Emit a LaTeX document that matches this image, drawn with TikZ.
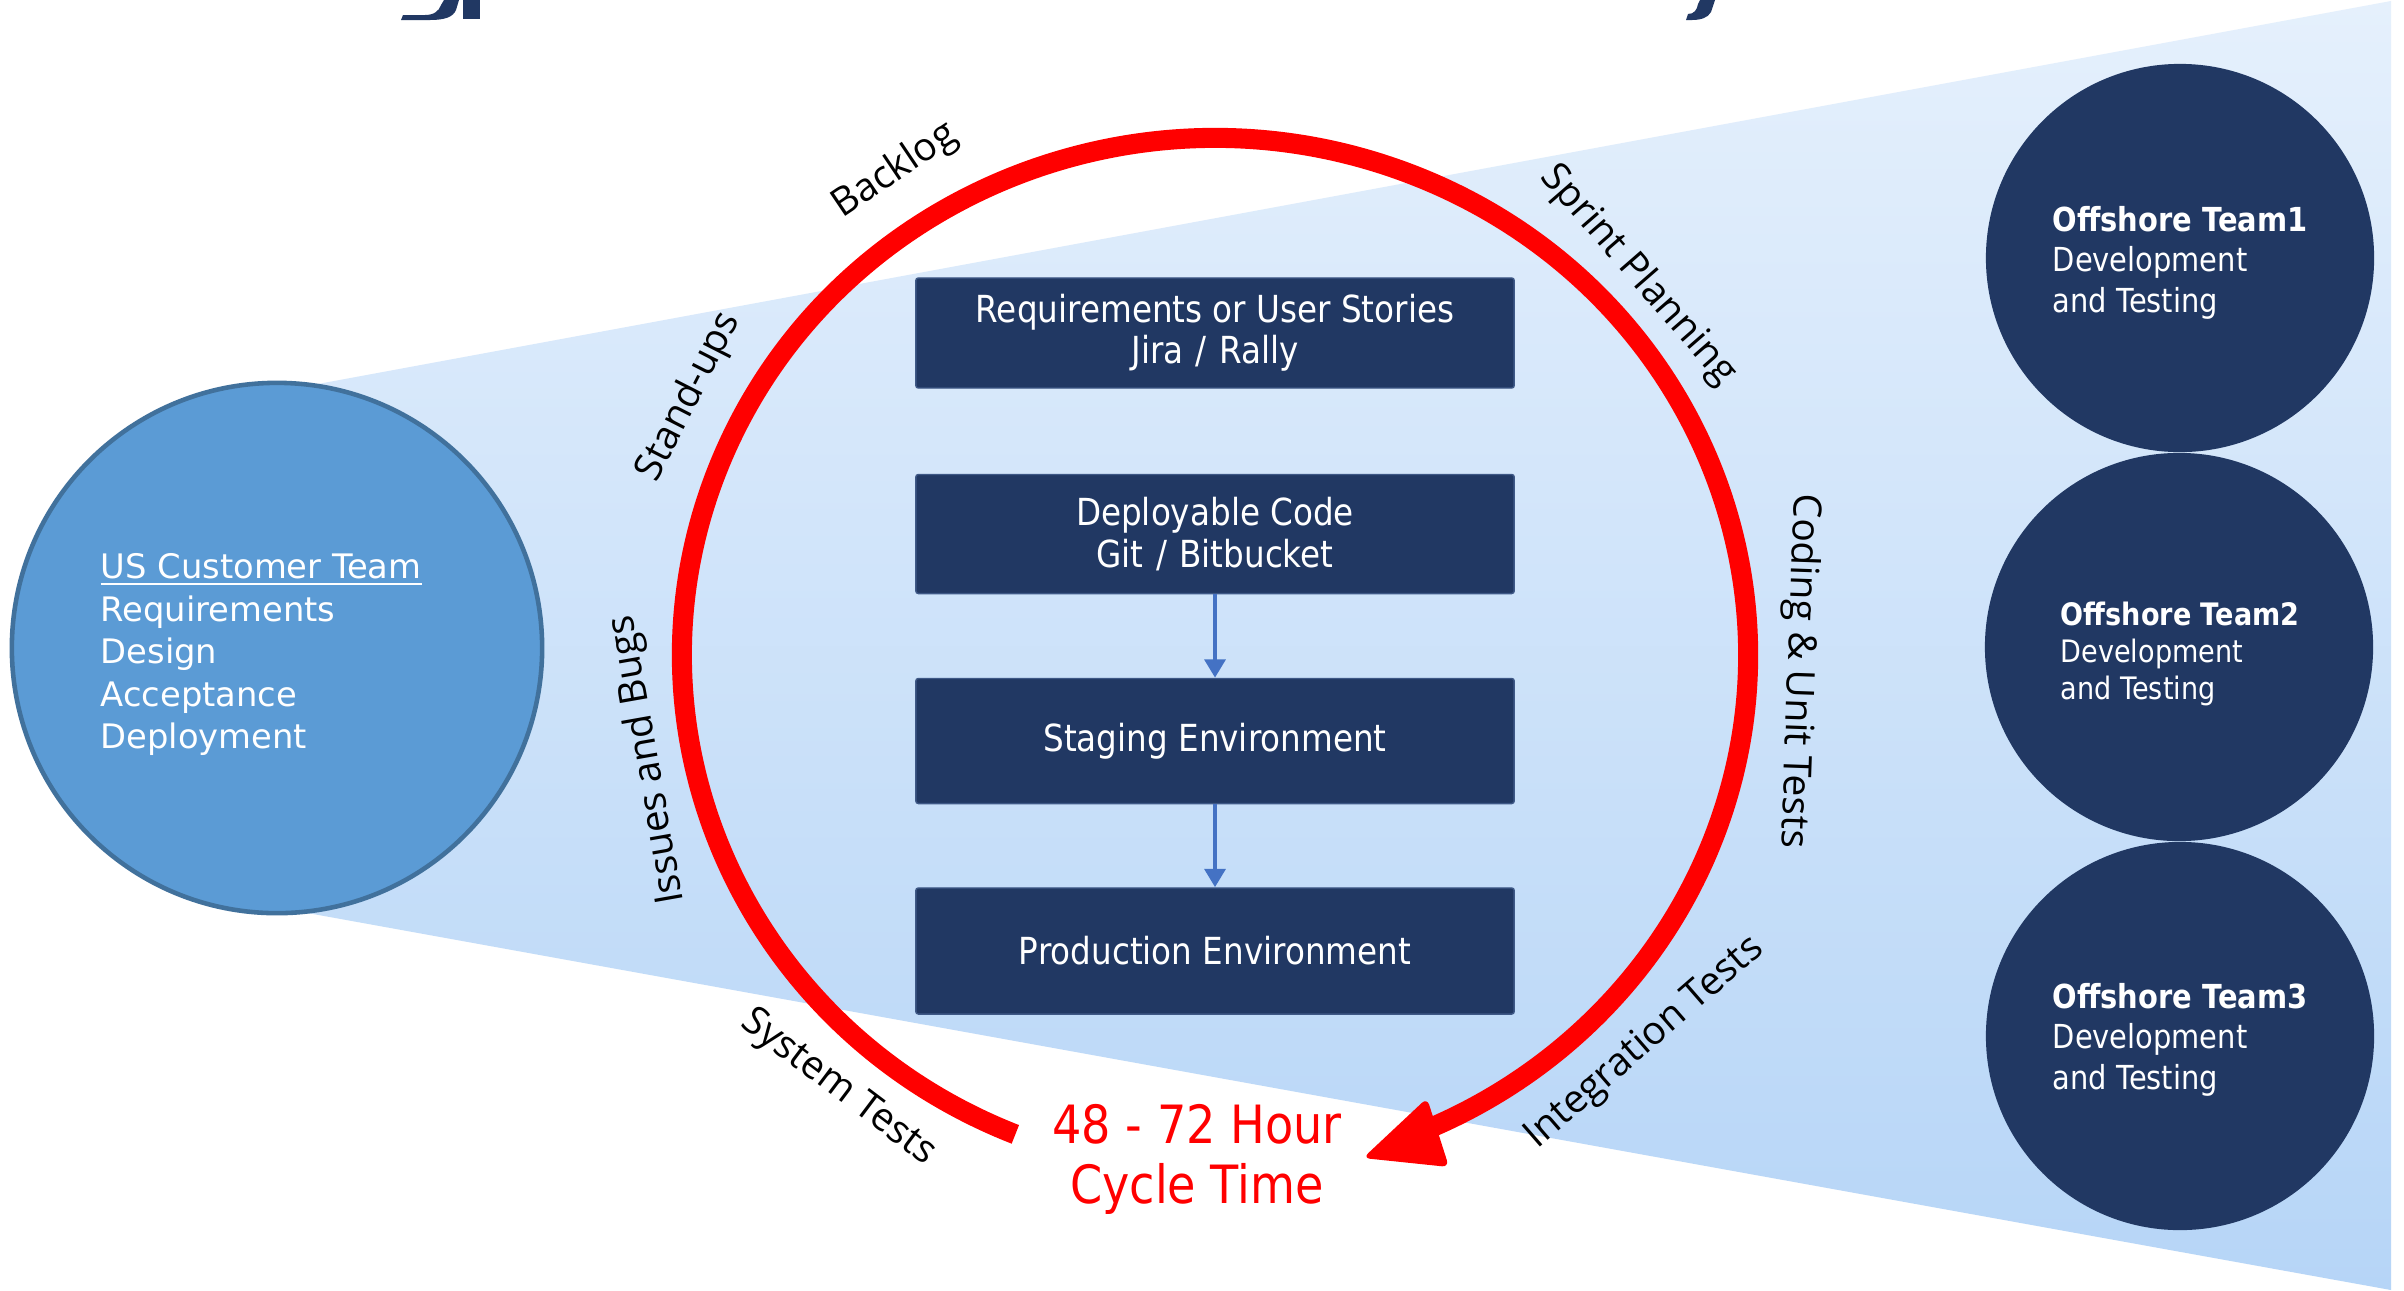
\documentclass[tikz,border=0pt]{standalone}
\usepackage{fontspec}
\setmainfont{DejaVu Sans}
\newfontfamily\verd{DejaVu Sans}
\newfontfamily\taho[FakeStretch=0.875]{DejaVu Sans}
\newfontfamily\segoe{Open Sans}
\usetikzlibrary{arrows.meta}
\definecolor{navy}{RGB}{33,56,99}
\definecolor{navyedge}{RGB}{62,88,134}
\definecolor{usfill}{RGB}{91,155,213}
\definecolor{usedge}{RGB}{65,113,156}
\definecolor{flowblue}{RGB}{68,114,196}
\definecolor{trtop}{RGB}{229,240,252}
\definecolor{trbot}{RGB}{182,213,247}
\definecolor{ringred}{RGB}{255,0,0}
\tikzset{
  stagebox/.style={rectangle, fill=navy, draw=navyedge, line width=0.4pt, rounded corners=0.7pt,
    minimum width=5.98cm, inner sep=0pt, text=white, align=center,
    font=\taho\fontsize{10.6}{11.7}\selectfont},
  teamcircle/.style={circle, fill=navy, minimum size=3.88cm, inner sep=0pt},
  teamtext/.style={anchor=north west, inner sep=0pt, text=white, align=left},
  flowarrow/.style={draw=flowblue, line width=1.3pt, -{Triangle[length=5.2pt,width=5.8pt]}},
  ringlabel/.style={inner sep=0pt, text=black, font=\segoe\fontsize{11.1}{13}\selectfont},
  ringline/.style={draw=ringred, line width=5.7pt, line cap=butt},
}
\begin{document}
\begin{tikzpicture}[x=0.01cm, y=-0.01cm]
\useasboundingbox (0,0) rectangle (2404,1290);
\fill[white] (0,0) rectangle (2404,1290);

% title fragments (descenders cut at the top edge)
\fill[navy] (444,0) -- (459,0) -- (456,10) .. controls (453,17) and (445,20) .. (430,20) -- (401,20) -- (403,15) -- (425,15) .. controls (434,15) and (439,11) .. (441,5) -- cycle;
\fill[navy] (463,0) rectangle (480,19);
\fill[navy] (1700,0) -- (1715,0) -- (1711,12) .. controls (1708,18) and (1700,20) .. (1692,20) -- (1686,20) -- (1688,14) .. controls (1694,14) and (1697,10) .. (1698,4) -- cycle;

% gradient wedge
\shade[top color=trtop, bottom color=trbot] (280,391) -- (2391,1) -- (2391,1290) -- (280,908) -- cycle;

% US customer team
\node[circle, fill=usfill, draw=usedge, line width=1.3pt, minimum size=5.3cm, inner sep=0pt] (us) at (277,648) {};
\node[teamtext, font=\verd\fontsize{9.6}{12.1}\selectfont] (ustext) at (100,553)
  {\underline{US Customer Team}\\Requirements\\Design\\Acceptance\\Deployment};

% offshore teams
\node[teamcircle] (off1) at (2180,258) {};
\node[teamcircle] (off2) at (2179,647) {};
\node[teamcircle] (off3) at (2180,1036) {};
\node[teamtext, font=\taho\fontsize{9.4}{11.4}\selectfont] (off1text) at (2052,206)
  {\textbf{Offshore Team1}\\Development\\and Testing};
\node[teamtext, font=\taho\fontsize{8.8}{10.5}\selectfont] (off2text) at (2060,601)
  {\textbf{Offshore Team2}\\Development\\and Testing};
\node[teamtext, font=\taho\fontsize{9.4}{11.4}\selectfont] (off3text) at (2052,983)
  {\textbf{Offshore Team3}\\Development\\and Testing};

% stage boxes
\node[stagebox, minimum height=1.10cm] (req) at (1215,333) {Requirements or User Stories\\Jira\,\,/\,\,Rally};
\node[stagebox, minimum height=1.19cm] (code) at (1215,534) {Deployable Code\\Git\,\,/\,\,Bitbucket};
\node[stagebox, minimum height=1.25cm] (stage) at (1215,741) {Staging Environment};
\node[stagebox, minimum height=1.26cm] (prod) at (1215,951) {Production Environment};
\draw[flowarrow] (code.south) -- (stage.north);
\draw[flowarrow] (stage.south) -- (prod.north);

% red cycle ring
\draw[ringline] (1215,655) ++(112:533 and 517) arc[start angle=112, end angle=427, x radius=533, y radius=517];
\fill[ringred, rounded corners=2pt] (1363,1158) -- (1427,1098) -- (1449,1167) -- cycle;

% ring labels
\node[ringlabel, rotate=34] (backlog) at (895,171) {Backlog};
\node[ringlabel, rotate=63] (standups) at (689,397) {Stand-ups};
\node[ringlabel, rotate=100] (issues) at (648,760) {Issues and Bugs};
\node[ringlabel, rotate=-37] (systest) at (838,1088) {System Tests};
\node[ringlabel, rotate=-49] (sprint) at (1638,275) {Sprint Planning};
\node[ringlabel, rotate=-92] (coding) at (1798,671) {Coding \& Unit Tests};
\node[ringlabel, rotate=41] (integ) at (1645,1043) {Integration Tests};

% cycle time
\node[inner sep=0pt, text=ringred, align=center, font=\taho\fontsize{15}{17.07}\selectfont] (cycle) at (1197,1159) {48 - 72 Hour\\Cycle Time};
\end{tikzpicture}
\end{document}
